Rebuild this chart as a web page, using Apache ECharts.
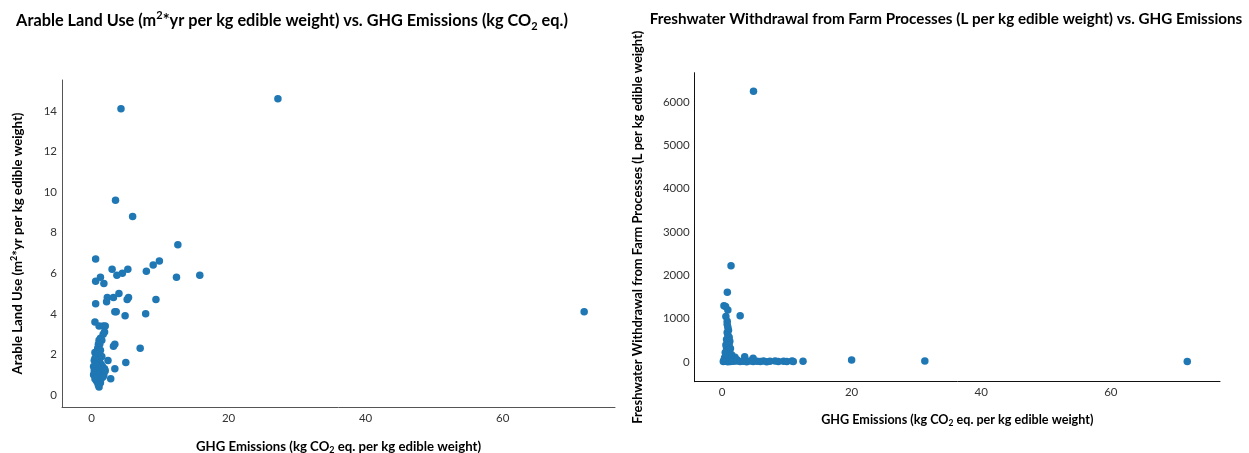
<!DOCTYPE html>
<html><head><meta charset="utf-8">
<script src="https://cdn.jsdelivr.net/npm/echarts@6/dist/echarts.min.js"></script>
<style>html,body{margin:0;padding:0;background:#fff}#c{width:1249px;height:453px}</style>
</head><body><div id="c"></div>
<script>
// Left chart: GHG emissions (x) vs arable land use (y)
const landGhg = [27.2,4.3,71.9,3.5,6.0,12.6,0.6,9.9,9.0,8.0,3.0,5.3,4.5,3.7,12.4,15.8,1.3,0.6,1.8,4.0,5.4,5.2,2.3,3.2,2.2,0.6,9.4,3.4,3.6,4.9,7.9,0.5,1.1,2.0,1.7,1.9,1.7,1.3,1.1,1.5,1.0,1.2,0.9,3.2,3.4,7.1,0.5,0.7,0.8,0.5,2.4,5.0,3.4,2.8,1.1,
  0.4,0.9,1.2,0.6,1.0,1.4,0.3,0.8,1.6,0.5,1.1,1.9,0.4,0.7,1.3,0.9,1.5,0.3,0.6,1.2,1.8,0.8,1.0,1.4,0.5,1.1,0.7,1.3,0.9,1.0,1.2,0.7,1.5,1.0,1.3,2.0,1.7];
const landUse = [14.6,14.1,4.1,9.6,8.8,7.4,6.7,6.6,6.4,6.1,6.2,6.2,6.0,5.9,5.8,5.9,5.8,5.6,5.5,5.0,4.8,4.7,4.8,4.8,4.6,4.5,4.7,4.1,4.1,3.9,4.0,3.6,3.4,3.4,3.4,3.1,3.0,2.8,2.7,2.7,2.5,2.5,2.3,2.4,2.5,2.3,2.1,2.0,1.9,1.8,1.7,1.6,1.3,0.8,0.4,
  1.7,1.7,1.6,1.5,1.5,1.5,1.4,1.4,1.4,1.3,1.3,1.3,1.2,1.2,1.2,1.1,1.1,1.0,1.0,1.0,1.0,0.9,0.9,0.8,0.8,0.7,0.7,0.6,0.6,0.5,1.8,1.9,1.9,2.1,2.2,1.2,0.9];

// Right chart: GHG emissions (x) vs freshwater withdrawal (y)
const waterGhg = [4.86,1.39,0.82,0.3,0.55,0.9,0.6,2.8,
  0.8,0.8,0.9,1.0,0.8,0.9,1.1,0.7,1.2,1.0,0.6,1.1,0.7,1.3,1.0,0.8,0.5,1.2,0.9,1.5,0.6,1.1,0.4,2.0,3.5,4.8,1.4,0.8,1.7,2.3,0.3,
  0.2,0.5,0.7,0.9,1.1,1.3,1.5,1.8,2.3,2.8,3.3,3.8,4.3,4.8,5.4,5.9,6.4,6.9,7.4,8.2,8.7,9.5,10.0,10.8,11.0,12.5,20.0,31.3,71.8];
const waterUse = [6250,2220,1610,1300,1280,1200,1050,1070,
  940,870,800,730,680,620,570,520,480,440,390,390,330,310,280,250,220,210,170,160,140,120,100,110,120,85,80,60,60,50,40,
  10,20,15,5,25,10,30,15,20,10,15,5,20,10,15,10,20,5,15,20,10,15,10,20,10,15,45,20,10];

const xTicks = [0,20,40,60];
const landTicks = [0,2,4,6,8,10,12,14];
const waterTicks = [0,1000,2000,3000,4000,5000,6000];

const FONT = 'Lato';
const subRich = (size) => ({
  sub: {fontSize: size, lineHeight: 9, verticalAlign: 'bottom', fontWeight: 'bold', fontFamily: FONT, color: '#000'},
  sup: {fontSize: size, lineHeight: 9, verticalAlign: 'top', fontWeight: 'bold', fontFamily: FONT, color: '#000'}
});

const chart = echarts.init(document.getElementById('c'), null, {renderer: 'canvas'});

function valueAxis(gridIndex, min, max, ticks, axisColor, extra) {
  return Object.assign({
    type: 'value', gridIndex, min, max,
    axisLine: {show: true, onZero: false, lineStyle: {color: axisColor, width: 1}},
    axisTick: {show: false},
    splitLine: {show: false},
    axisLabel: {customValues: ticks, color: '#333', fontFamily: FONT, fontSize: 11.5, margin: 5, formatter: v => String(v)}
  }, extra);
}

const option = {
  animation: false,
  backgroundColor: '#fff',
  graphic: [
    {type: 'text', x: 292, y: 21, style: {
      text: 'Arable Land Use (m{sup|2}*yr per kg edible weight) vs. GHG Emissions (kg CO{sub|2} eq.)',
      fontFamily: FONT, fontSize: 16.3, fontWeight: 'bold', fill: '#000', align: 'center', verticalAlign: 'middle', lineHeight: 22,
      rich: subRich(11)}},
    {type: 'text', x: 946, y: 19, style: {
      text: 'Freshwater Withdrawal from Farm Processes (L per kg edible weight) vs. GHG Emissions',
      fontFamily: FONT, fontSize: 15.2, fontWeight: 'bold', fill: '#000', align: 'center', verticalAlign: 'middle'}}
  ],
  grid: [
    {left: 62, top: 80, width: 553, height: 327, outerBoundsMode: 'none', containLabel: false},
    {left: 694.6, top: 72.7, width: 525.4, height: 309, outerBoundsMode: 'none', containLabel: false}
  ],
  xAxis: [
    valueAxis(0, -4.31, 76.4, xTicks, '#555', {
      name: 'GHG Emissions (kg CO{sub|2} eq. per kg edible weight)', nameLocation: 'middle', nameGap: 32,
      nameTextStyle: {fontFamily: FONT, fontWeight: 'bold', fontSize: 13.2, color: '#000', lineHeight: 16, rich: subRich(9)}}),
    valueAxis(1, -4.23, 76.85, xTicks, '#111', {
      name: 'GHG Emissions (kg CO{sub|2} eq. per kg edible weight)', nameLocation: 'middle', nameGap: 30,
      nameTextStyle: {fontFamily: FONT, fontWeight: 'bold', fontSize: 12.6, color: '#000', lineHeight: 16, rich: subRich(8.5)}})
  ],
  yAxis: [
    valueAxis(0, -0.59, 15.52, landTicks, '#555', {
      name: 'Arable Land Use (m{sup|2}*yr per kg edible weight)', nameLocation: 'middle', nameGap: 36, nameRotate: 90,
      nameTextStyle: {fontFamily: FONT, fontWeight: 'bold', fontSize: 13.2, color: '#000', lineHeight: 16, rich: subRich(9)}}),
    valueAxis(1, -455, 6677, waterTicks, '#111', {
      name: 'Freshwater Withdrawal from Farm Processes (L per kg edible weight)', nameLocation: 'middle', nameGap: 50, nameRotate: 90,
      nameTextStyle: {fontFamily: FONT, fontWeight: 'bold', fontSize: 12.9, color: '#000'}})
  ],
  series: [
    {type: 'scatter', xAxisIndex: 0, yAxisIndex: 0, symbolSize: 7.5,
     itemStyle: {color: '#1f77b4', opacity: 1},
     data: landGhg.map((x, i) => [x, landUse[i]])},
    {type: 'scatter', xAxisIndex: 1, yAxisIndex: 1, symbolSize: 7.5,
     itemStyle: {color: '#1f77b4', opacity: 1},
     data: waterGhg.map((x, i) => [x, waterUse[i]])}
  ]
};
chart.setOption(option);
</script>
</body></html>
